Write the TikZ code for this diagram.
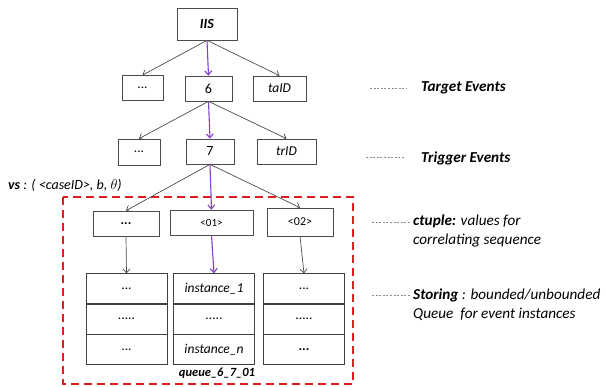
\documentclass[tikz,border=0pt]{standalone}
\usepackage{fontspec}
\setmainfont{Carlito}
\usetikzlibrary{positioning,arrows.meta}
\definecolor{hotpath}{RGB}{128,64,200}
\definecolor{regionred}{RGB}{222,30,30}

\begin{document}
\begin{tikzpicture}[x=1pt,y=-1pt,every node/.style={font=\fontsize{13.5}{15}\selectfont},
  >={Straight Barb[length=4pt,width=7pt]},
  box/.style={draw=black!70,line width=0.7pt,minimum height=25pt,inner sep=1pt},
  qcell/.style={draw=black!75,line width=0.9pt,minimum width=81pt,minimum height=30.3pt,inner sep=0pt},
  link/.style={->,draw=black!70,line width=0.7pt},
  hot/.style={->,draw=hotpath,line width=1.1pt},
  legdash/.style={draw=black!45,line width=0.6pt,dash pattern=on 2pt off 1.6pt},
  legtext/.style={anchor=west,inner sep=0pt,align=left,font=\fontsize{15.2}{19}\selectfont}]
  \useasboundingbox (0,0) rectangle (606,387);

  % tree of events
  \node[box,minimum width=60pt,minimum height=32pt,font=\fontsize{14}{16}\selectfont] (iis) at (207,24) {\textbf{\textit{IIS}}};
  \node[box,minimum width=41pt] (tadots) at (142.5,88) {...};
  \node[box,minimum width=47pt,font=\fontsize{14}{16}\selectfont] (ta6) at (208.5,88.5) {6};
  \node[box,minimum width=53pt] (taid) at (279.5,88.5) {\textit{taID}};
  \node[box,minimum width=42pt,minimum height=26pt] (trdots) at (139,152) {...};
  \node[box,minimum width=48pt,font=\fontsize{14}{16}\selectfont] (tr7) at (210,151.5) {7};
  \node[box,minimum width=59pt] (trid) at (286.5,151.5) {\textit{trID}};

  \node[anchor=west,inner sep=0pt,font=\fontsize{14}{16}\selectfont] (vs) at (8,185)
    {\textbf{\textit{vs}}\textit{ : ( <caseID>, b, $\theta$)}};

  % correlation tuples
  \node[box,minimum width=66pt] (ctdots) at (126,223.5) {\textbf{...}};
  \node[box,minimum width=83pt,font=\fontsize{11}{13}\selectfont] (ct01) at (211.5,222.5) {<01>};
  \node[box,minimum width=66pt,minimum height=28pt,font=\fontsize{12}{14}\selectfont] (ct02) at (300,222) {<02>};

  % queues
  \node[qcell] (qa1) at (126.5,289) {...};
  \node[qcell] (qa2) at (126.5,319) {.....};
  \node[qcell] (qa3) at (126.5,349.5) {...};
  \node[qcell] (qb1) at (214,289) {\textit{instance\_1}};
  \node[qcell] (qb2) at (214,319) {.....};
  \node[qcell] (qb3) at (214,349.5) {\textit{instance\_n}};
  \node[qcell] (qc1) at (304,289) {...};
  \node[qcell] (qc2) at (304,319) {.....};
  \node[qcell] (qc3) at (304,349.5) {\textbf{...}};
  \node[inner sep=0pt,font=\fontsize{12.5}{14}\selectfont] (qname) at (217,373.5)
    {\textbf{\textit{queue\_6\_7\_01}}};

  \draw[regionred,line width=2pt,dash pattern=on 8pt off 5pt] (63,197) rectangle (353,384);

  \draw[link] (iis.south) -- (tadots.north);
  \draw[hot]  (iis.south) -- (ta6.north);
  \draw[link] (iis.south) -- (taid.north);
  \draw[link] (ta6.south) -- (trdots.north);
  \draw[hot]  (ta6.south) -- (tr7.north);
  \draw[link] (ta6.south) -- (trid.north);
  \draw[link] (tr7.south) -- (ctdots.north);
  \draw[hot]  (tr7.south) -- (ct01.north);
  \draw[link] (tr7.south) -- (ct02.north);
  \draw[link] (ctdots.south) -- (qa1.north);
  \draw[hot]  (ct01.south) -- (qb1.north);
  \draw[link] (ct02.south) -- (qc1.north);

  % legend
  \node[legtext] (lgtarget) at (421,88) {\textbf{\textit{Target Events}}};
  \node[legtext] (lgtrigger) at (421,158) {\textbf{\textit{Trigger Events}}};
  \node[legtext,anchor=north west] (lgctuple) at (413,214.5)
    {\textbf{\textit{ctuple:}} \textit{values for}\\\textit{correlating sequence}};
  \node[legtext,anchor=north west] (lgstore) at (413,288.5)
    {\textbf{\textit{Storing}}\textit{ : bounded/unbounded}\\\textit{Queue \ for event instances}};
  \coordinate (dtarget) at (370,88);
  \coordinate (dtrigger) at (366,157);
  \coordinate (dctuple) at (372,222);
  \coordinate (dstore) at (372,295);
  \draw[legdash] (dtarget) -- ++(37,0);
  \draw[legdash] (dtrigger) -- ++(39,0);
  \draw[legdash] (dctuple) -- ++(39,0);
  \draw[legdash] (dstore) -- ++(39,0);
\end{tikzpicture}
\end{document}
